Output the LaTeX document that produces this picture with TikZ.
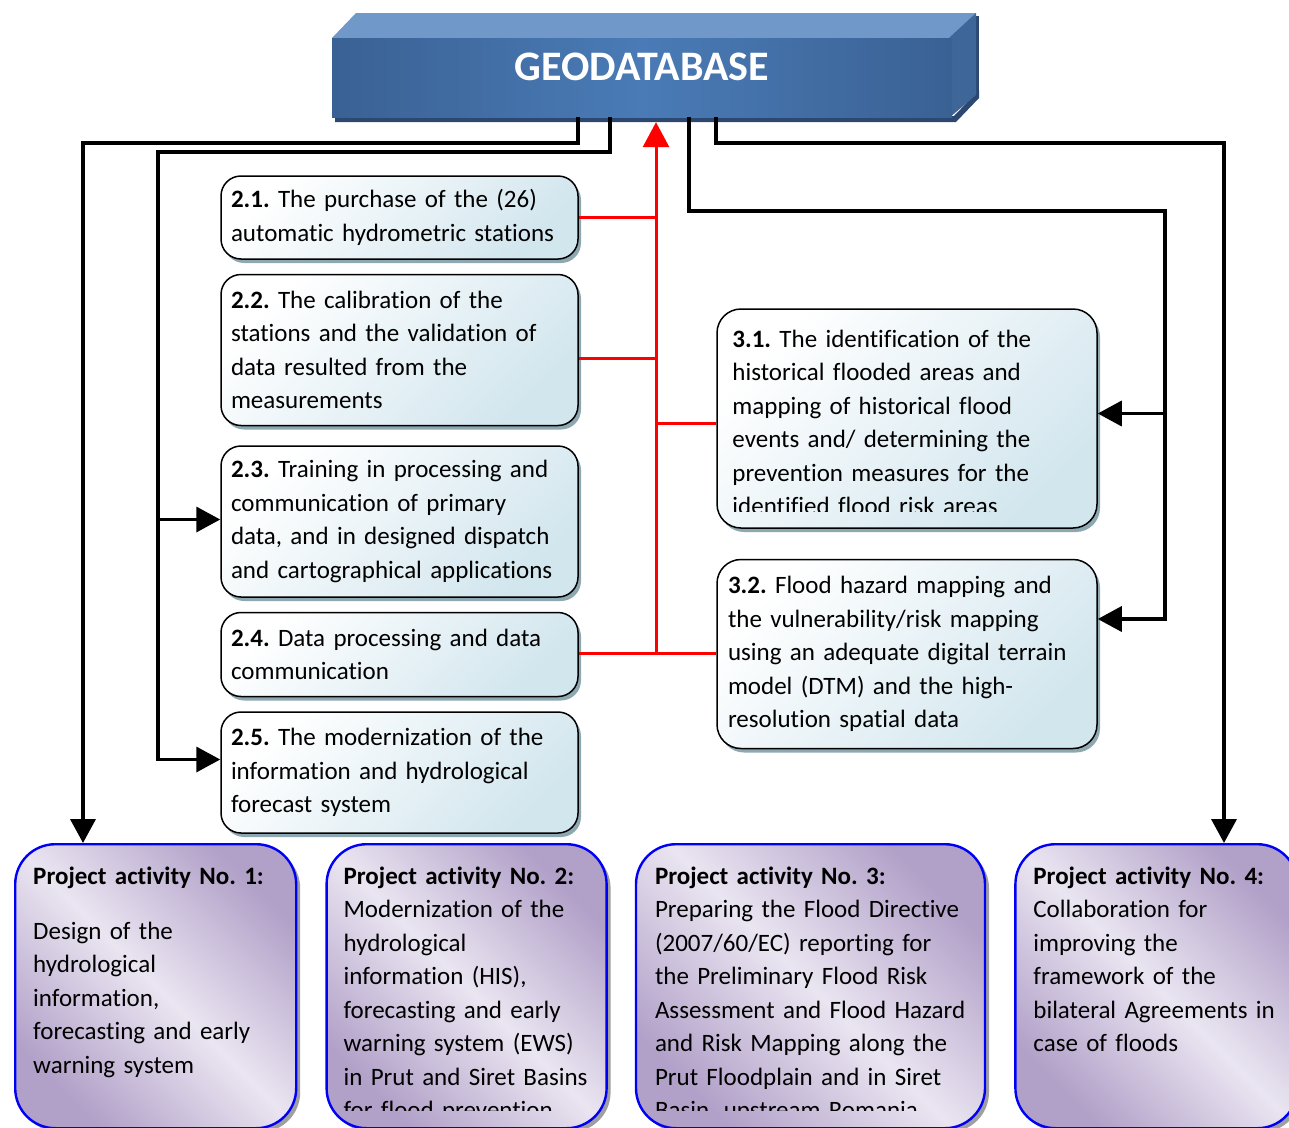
\documentclass[tikz,border=0pt]{standalone}
\usepackage{fontspec}
\setmainfont{Carlito}[Ligatures=NoCommon]
\usetikzlibrary{arrows.meta,shadows,positioning}
\frenchspacing

\definecolor{taskblue}{HTML}{D2E6EE}
\definecolor{taskshade}{HTML}{8EA8B2}
\definecolor{actdark}{HTML}{B1A0C8}
\definecolor{actlight}{HTML}{EAE5F1}
\definecolor{actline}{HTML}{0000F5}
\definecolor{geofront}{HTML}{3A6194}
\definecolor{geomid}{HTML}{4A7BB6}
\definecolor{geotop}{HTML}{7099CA}
\definecolor{geoside}{HTML}{3F6699}
\definecolor{geoshade}{HTML}{2C4870}
\definecolor{feedred}{HTML}{FF0000}

\tikzset{
  boxtext/.style={font=\fontsize{25}{33.5}\selectfont},
  task/.style={boxtext, draw=black, line width=1.5pt, rounded corners=20pt,
    top color=white, bottom color=taskblue, shading angle=45,
    drop shadow={shadow xshift=3pt, shadow yshift=-4pt, fill=taskshade, opacity=1},
    inner xsep=10pt, align=left},
  act/.style={draw=actline, line width=2.4pt, rounded corners=40pt,
    top color=actdark, bottom color=actdark, middle color=actlight, shading angle=-45,
    drop shadow={shadow xshift=4pt, shadow yshift=-4pt, fill=gray!75, opacity=1},
    minimum height=284pt},
  acttext/.style={boxtext, anchor=base west, align=left, inner sep=0pt},
  link/.style={draw=black, line width=3.6pt, -{Triangle[length=24pt,width=25pt]}},
  feed/.style={draw=feedred, line width=3pt},
}

\begin{document}
\begin{tikzpicture}[x=1pt,y=-1pt]
    \useasboundingbox (0,0) rectangle (1289,1127);
    % geodatabase block
    \fill[geoshade] (335,116) -- (954,116) -- (979,90) -- (979,98) -- (956,122) -- (335,122) -- cycle;
    \fill[geoshade] (975,16) rectangle (979,98);
    \fill[geotop] (332,38) -- (356,13) -- (976,13) -- (952,38) -- cycle;
    \fill[geoside] (949,38) -- (976,13) -- (976,95) -- (949,118) -- cycle;
    \node[left color=geofront, right color=geofront, middle color=geomid,
        minimum width=620pt, minimum height=79pt, inner sep=0pt] (geo) at (642,77.5) {};
    \node[font=\fontsize{42}{50}\selectfont\bfseries, text=white] (geotitle) at (642,67) {GEODATABASE};

    % activity 2 tasks
    \node[task, minimum width=357pt, minimum height=83pt, text width=337pt] (b21) at (399.5,217.5)
        {\textbf{2.1.} The purchase of the (26)\\automatic hydrometric stations};
    \node[task, minimum width=357pt, minimum height=151pt, text width=337pt, below=14pt of b21] (b22)
        {\textbf{2.2.} The calibration of the\\stations and the validation of\\data resulted from the\\measurements};
    \node[task, minimum width=357pt, minimum height=151pt, text width=337pt, below=19pt of b22] (b23)
        {\textbf{2.3.} Training in processing and\\communication of primary\\data, and in designed dispatch\\and cartographical applications};
    \node[task, minimum width=357pt, minimum height=84pt, text width=337pt, below=14pt of b23] (b24)
        {\textbf{2.4.} Data processing and data\\communication};
    \node[task, minimum width=357pt, minimum height=121pt, text width=337pt, below=14pt of b24] (b25)
        {\textbf{2.5.} The modernization of the\\information and hydrological\\forecast system};

    % activity 3 tasks
    \node[task, rounded corners=24pt, minimum width=380pt, minimum height=219pt] (b31) at (907,418.5) {};
    \begin{scope}
        \clip (b31.north west) rectangle ([yshift=17pt]b31.south east);
        \node[acttext, text width=355pt] (b31text) at ([xshift=16pt,yshift=-39pt]b31.north west)
            {\textbf{3.1.} The identification of the\\historical flooded areas and\\mapping of historical flood\\events and/ determining the\\prevention measures for the\\identified flood risk areas};
    \end{scope}
    \node[task, rounded corners=24pt, minimum width=380pt, minimum height=189pt, text width=358pt,
        inner xsep=11pt, below=30pt of b31] (b32)
        {\textbf{3.2.} Flood hazard mapping and\\the vulnerability/risk mapping\\using an adequate digital terrain\\model (DTM) and the high-\\resolution spatial data};

    % project activities
    \node[act, minimum width=281pt, anchor=north west] (pa1) at (14,843) {};
    \node[act, minimum width=280pt, right=28pt of pa1] (pa2) {};
    \node[act, minimum width=349pt, right=27pt of pa2] (pa3) {};
    \node[act, minimum width=282pt, right=28pt of pa3] (pa4) {};
    \begin{scope}
        \clip (0,842) rectangle (1289,1110);
        \node[acttext, text width=260pt] (pa1text) at ([xshift=19pt,yshift=-41pt]pa1.north west)
            {\textbf{Project activity No. 1:}\\[21.5pt]Design of the\\hydrological\\information,\\forecasting and early\\warning system};
        \node[acttext, text width=260pt] (pa2text) at ([xshift=18pt,yshift=-41pt]pa2.north west)
            {\textbf{Project activity No. 2:}\\Modernization of the\\hydrological\\information (HIS),\\forecasting and early\\warning system (EWS)\\in Prut and Siret Basins\\for flood prevention};
        \node[acttext, text width=325pt] (pa3text) at ([xshift=20pt,yshift=-41pt]pa3.north west)
            {\textbf{Project activity No. 3:}\\Preparing the Flood Directive\\(2007/60/EC) reporting for\\the Preliminary Flood Risk\\Assessment and Flood Hazard\\and Risk Mapping along the\\Prut Floodplain and in Siret\\Basin, upstream Romania};
        \node[acttext, text width=265pt] (pa4text) at ([xshift=19pt,yshift=-41pt]pa4.north west)
            {\textbf{Project activity No. 4:}\\Collaboration for\\improving the\\framework of the\\bilateral Agreements in\\case of floods};
    \end{scope}

    % feeds into the geodatabase
    \coordinate (hub) at (656,653);
    \draw[feed, -{Triangle[length=25pt,width=26pt]}, shorten >=5pt] (hub) -- (hub |- geo.south);
    \draw[feed] (b21.east) -- (b21.east -| hub);
    \draw[feed] ([yshift=-8pt]b22.east) -- ([yshift=-8pt]b22.east -| hub);
    \draw[feed] ([yshift=-5pt]b31.west) -- ([yshift=-5pt]b31.west -| hub);
    \draw[feed] (b24.east |- hub) -- (b32.west |- hub);

    % links out of the geodatabase
    \coordinate (gA) at ([xshift=-64pt]geo.south);
    \coordinate (gB) at ([xshift=-32pt]geo.south);
    \coordinate (gC) at ([xshift=47pt]geo.south);
    \coordinate (gD) at ([xshift=74pt]geo.south);
    \coordinate (bendA) at (83,143);
    \coordinate (bendB) at (158,152);
    \coordinate (bendC) at (1165,211);
    \coordinate (bendD) at (1224,143);
    \coordinate (in31) at ([yshift=5pt]b31.east);
    \coordinate (in32) at ([yshift=35pt]b32.east);
    \coordinate (in23) at ([yshift=2pt]b23.west);
    \coordinate (in25) at ([yshift=13pt]b25.west);
    \draw[link] (gA) |- (bendA) -- (bendA |- pa1.north);
    \draw[link] (gB) |- (bendB) |- (in25);
    \draw[link] (bendB |- in23) -- (in23);
    \draw[link] (gC) |- (bendC) |- (in32);
    \draw[link] (bendC |- in31) -- (in31);
    \draw[link] (gD) |- (bendD) -- (bendD |- pa4.north);
\end{tikzpicture}
\end{document}
